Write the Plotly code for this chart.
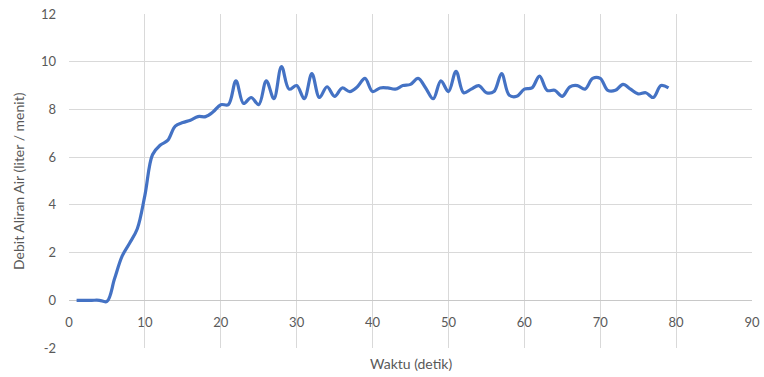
import plotly.graph_objects as go

waktu = list(range(1, 80))
debit = [
    0, 0, 0, 0, -0.05, 0.9, 1.85, 2.4, 3.0, 4.4,
    6.1, 6.5, 6.7, 7.3, 7.45, 7.55, 7.7, 7.7, 7.9, 8.2,
    8.2, 9.2, 8.25, 8.5, 8.2, 9.2, 8.45, 9.8, 8.85, 9.0,
    8.45, 9.5, 8.5, 8.95, 8.55, 8.9, 8.75, 8.95, 9.3, 8.75,
    8.9, 8.9, 8.85, 9.0, 9.05, 9.3, 8.9, 8.45, 9.2, 8.75,
    9.6, 8.7, 8.85, 9.0, 8.7, 8.75, 9.5, 8.6, 8.55, 8.85,
    8.9, 9.4, 8.8, 8.8, 8.55, 8.95, 9.0, 8.85, 9.3, 9.3,
    8.8, 8.8, 9.05, 8.85, 8.65, 8.7, 8.5, 9.0, 8.9,
]
x_ticks = [0, 10, 20, 30, 40, 50, 60, 70, 80, 90]
y_ticks = [-2, 0, 2, 4, 6, 8, 10, 12]

font_family = "Lato, 'Open Sans', sans-serif"
grey = "#595959"

fig = go.Figure()
fig.add_trace(go.Scatter(
    x=waktu, y=debit, mode="lines",
    line=dict(color="#4472C4", width=3.2, shape="spline", smoothing=1.0),
    showlegend=False,
))

fig.update_layout(
    width=764, height=377,
    margin=dict(l=69, r=12, t=14, b=29),
    paper_bgcolor="white", plot_bgcolor="white",
    font=dict(family=font_family, size=13, color=grey),
    xaxis=dict(
        range=[0, 90], tickvals=x_ticks, ticktext=[str(v) for v in x_ticks],
        showgrid=True, gridcolor="#d9d9d9", gridwidth=1,
        zeroline=False, showline=False,
        anchor="free", position=2 / 14,
        ticks="", ticklabelstandoff=13, automargin=False,
        ticklabeloverflow="allow",
    ),
    yaxis=dict(
        range=[-2, 12], tickvals=y_ticks, ticktext=[str(v) for v in y_ticks],
        showgrid=True, gridcolor="#d9d9d9", gridwidth=1,
        zeroline=True, zerolinecolor="#c8c8c8", zerolinewidth=1.5,
        showline=False, ticks="", ticklabelstandoff=12, automargin=False,
        ticklabeloverflow="allow",
    ),
    annotations=[
        dict(
            text="Waktu (detik)", xref="paper", yref="paper", x=0.5, y=-0.045,
            xanchor="center", yanchor="middle", showarrow=False,
            font=dict(size=14, color=grey),
        ),
        dict(
            text="Debit Aliran Air (liter / menit)", xref="paper", yref="paper",
            x=-0.0747, y=0.5, xanchor="center", yanchor="middle", textangle=-90,
            showarrow=False, font=dict(size=14, color=grey),
        ),
    ],
)

fig.write_html(
    "out.html",
    config={"displayModeBar": False, "staticPlot": True},
    post_script="document.body.style.margin='0';document.body.style.overflow='hidden';",
)
